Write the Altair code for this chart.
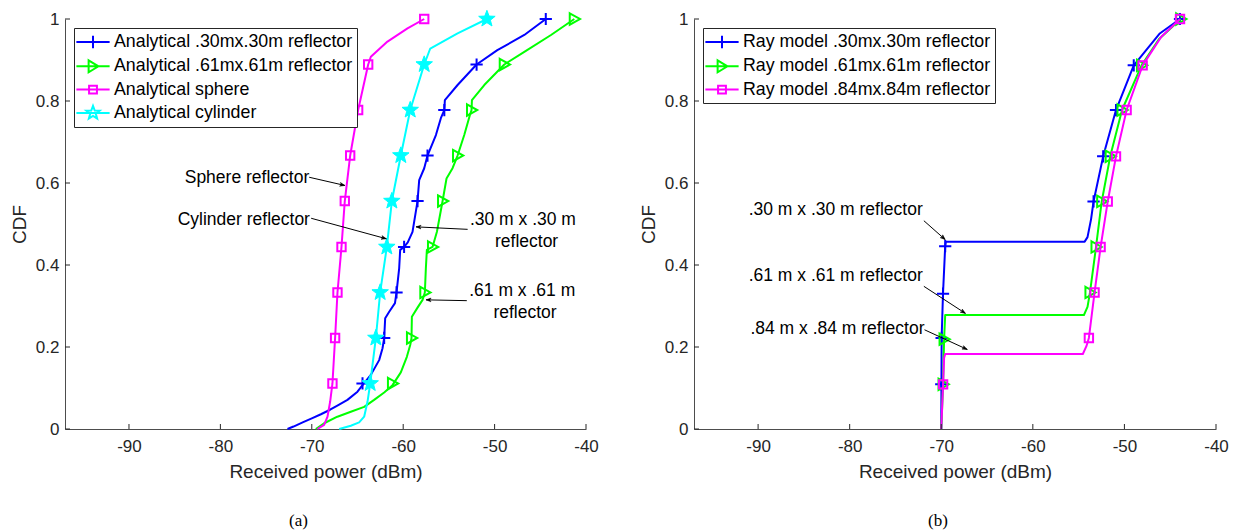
import math
import altair as alt
import pandas as pd

# ---------------- data ----------------
X_DOMAIN = [-97, -40]
X_TICKS = [-90, -80, -70, -60, -50, -40]
Y_TICKS = [0, 0.2, 0.4, 0.6, 0.8, 1.0]

# Panel (a): analytical CDFs
a_names = ["Analytical .30mx.30m reflector", "Analytical .61mx.61m reflector",
           "Analytical sphere", "Analytical cylinder"]

a30_x = [-72.66, -72.0, -71.0, -70.0, -69.0, -68.0, -67.2, -66.1, -65.0, -64.45, -63.54, -62.63,
         -62.26, -62.08, -61.97, -61.53, -60.9, -60.73, -60.44, -60.33, -59.9, -59.5, -58.98,
         -58.43, -58.25, -57.7, -57.34, -56.42, -55.88, -55.5, -55.44, -54.05, -51.97, -49.7,
         -46.75, -44.4]
a30_y = [0.0, 0.006, 0.016, 0.026, 0.036, 0.047, 0.057, 0.071, 0.091, 0.107, 0.132, 0.168,
         0.197, 0.222, 0.27, 0.286, 0.307, 0.333, 0.392, 0.437, 0.444, 0.455, 0.481,
         0.556, 0.607, 0.636, 0.667, 0.717, 0.758, 0.778, 0.802, 0.839, 0.889, 0.924,
         0.961, 1.0]
a30_mx = [-64.45, -62.08, -60.73, -59.9, -58.43, -57.34, -55.5, -51.97, -44.4]

a61_x = [-69.56, -68.65, -67.2, -65.73, -64.27, -63.18, -62.08, -61.17, -60.26, -59.6, -59.23,
         -59.09, -59.05, -58.43, -57.88, -57.63, -57.52, -57.41, -56.79, -56.31, -55.69, -55.26,
         -54.6, -54.05, -53.32, -52.7, -52.52, -52.48, -51.13, -48.94, -46.75, -43.83, -41.28]
a61_y = [0.0, 0.014, 0.03, 0.042, 0.054, 0.071, 0.089, 0.107, 0.138, 0.176, 0.205,
         0.222, 0.274, 0.296, 0.315, 0.333, 0.392, 0.437, 0.444, 0.481, 0.556, 0.611,
         0.636, 0.667, 0.717, 0.766, 0.778, 0.802, 0.839, 0.889, 0.92, 0.961, 1.0]
a61_mx = [-61.17, -59.09, -57.63, -56.79, -55.69, -54.05, -52.52, -48.94, -41.28]

asph_x = [-69.38, -68.65, -68.28, -67.99, -67.74, -67.45, -67.19, -66.75, -66.39, -65.8,
          -64.93, -63.83, -63.54, -61.72, -59.53, -57.7]
asph_y = [0.0, 0.01, 0.03, 0.067, 0.111, 0.222, 0.333, 0.444, 0.556, 0.667,
          0.778, 0.889, 0.908, 0.945, 0.977, 1.0]
asph_mx = [-67.74, -67.45, -67.19, -66.75, -66.39, -65.8, -64.93, -63.83, -57.7]

acyl_x = [-67.0, -65.73, -64.82, -64.27, -63.9, -63.61, -62.99, -62.52, -61.79, -61.24,
          -60.26, -59.23, -57.7, -57.04, -54.05, -50.84]
acyl_y = [0.0, 0.008, 0.016, 0.03, 0.067, 0.111, 0.222, 0.333, 0.444, 0.556,
          0.667, 0.778, 0.889, 0.928, 0.965, 1.0]
acyl_mx = [-63.61, -62.99, -62.52, -61.79, -61.24, -60.26, -59.23, -57.7, -50.84]

MARK_Y = [0.111, 0.222, 0.333, 0.444, 0.556, 0.667, 0.778, 0.889, 1.0]

a_ann_text = ["Sphere reflector", "Cylinder reflector", ".30 m x .30 m", "reflector",
              ".61 m x .61 m", "reflector"]
a_ann_x = [-70.28, -70.2, -46.9, -46.5, -46.98, -46.67]
a_ann_y = [0.612, 0.51, 0.51, 0.456, 0.337, 0.283]
a_ann_align = ["right", "right", "center", "center", "center", "center"]
a_arr_x1 = [-70.28, -70.07, -52.95, -53.04]
a_arr_y1 = [0.614, 0.514, 0.487, 0.313]
a_arr_x2 = [-66.38, -61.84, -58.6, -57.5]
a_arr_y2 = [0.594, 0.464, 0.493, 0.315]

# Panel (b): ray model CDFs
b_names = ["Ray model .30mx.30m reflector", "Ray model .61mx.61m reflector",
           "Ray model .84mx.84m reflector"]

b30_x = [-70.0, -69.96, -69.81, -69.57, -69.5, -54.34, -54.03, -53.64, -53.37, -52.32,
         -50.92, -48.98, -46.18, -43.93]
b30_y = [0.0, 0.222, 0.33, 0.446, 0.457, 0.457, 0.468, 0.512, 0.555, 0.665,
         0.778, 0.887, 0.964, 1.0]
b30_mx = [-70.0, -69.96, -69.81, -69.57, -53.37, -52.32, -50.92, -48.98, -43.93]
b30_my = [0.109, 0.222, 0.33, 0.446, 0.555, 0.665, 0.778, 0.887, 1.0]

b61_x = [-70.0, -69.8, -69.69, -69.57, -54.42, -54.03, -53.76, -53.1, -52.48, -51.55,
         -50.26, -48.13, -46.18, -43.85]
b61_y = [0.0, 0.109, 0.219, 0.278, 0.278, 0.298, 0.333, 0.444, 0.555, 0.665,
         0.778, 0.887, 0.952, 1.0]
b61_mx = [-69.8, -69.69, -53.76, -53.1, -52.48, -51.55, -50.26, -48.13, -43.85]
b61_my = [0.109, 0.219, 0.333, 0.444, 0.555, 0.665, 0.778, 0.887, 1.0]

b84_x = [-70.0, -69.8, -69.69, -69.57, -54.54, -54.15, -53.88, -53.26, -52.6, -51.82,
         -50.92, -49.76, -48.01, -45.99, -43.93]
b84_y = [0.0, 0.109, 0.173, 0.183, 0.183, 0.202, 0.222, 0.333, 0.444, 0.555,
         0.665, 0.778, 0.887, 0.956, 1.0]
b84_mx = [-69.8, -53.88, -53.26, -52.6, -51.82, -50.92, -49.76, -48.01, -43.93]
b84_my = [0.109, 0.222, 0.333, 0.444, 0.555, 0.665, 0.778, 0.887, 1.0]

b_ann_text = [".30 m x .30 m reflector", ".61 m x .61 m reflector", ".84 m x .84 m reflector"]
b_ann_x = [-72.02, -72.02, -71.83]
b_ann_y = [0.535, 0.373, 0.244]
b_arr_x1 = [-71.9, -71.9, -71.83]
b_arr_y1 = [0.508, 0.348, 0.242]
b_arr_x2 = [-69.57, -67.36, -67.16]
b_arr_y2 = [0.462, 0.282, 0.194]

# ---------------- styles ----------------
FONT = "Liberation Sans"
TXT = "#262626"
BLUE, GREEN, MAGENTA, CYAN = "#0000ff", "#00ff00", "#ff00ff", "#00ffff"


def star_path(r_out, r_in):
    pts = []
    for i in range(10):
        ang = math.radians(-90 + 36 * i)
        r = r_out if i % 2 == 0 else r_in
        pts.append(f"{r * math.cos(ang):.3f},{r * math.sin(ang):.3f}")
    return "M" + "L".join(pts) + "Z"


PLUS = "M-1,0H1M0,-1V1"
TRI = "M-0.8,-1L1,0L-0.8,1Z"
SQR = "M-1,-1H1V1H-1Z"
STAR = star_path(1.0, 0.42)
HEAD = "M0,0L-2,-0.75L-1.45,0L-2,0.75Z"

LEG_LINE = "M-1.9,0H1.9"
LEG_PLUS = LEG_LINE + "M0,-0.72V0.72"
LEG_TRI = LEG_LINE + "M-0.5,-0.68L0.62,0L-0.5,0.68Z"
LEG_SQR = LEG_LINE + "M-0.45,-0.45H0.45V0.45H-0.45Z"
LEG_STAR = LEG_LINE + star_path(0.8, 0.34)

W_A, H_A = 521, 410
W_B, H_B = 522, 410


def panel(names, xs, ys, mxs, mys, styles, leg_paths, ann, arrows, width, height, caption, cap_dx):
    xenc = alt.X("x:Q", scale=alt.Scale(domain=X_DOMAIN, nice=False, zero=False),
                 axis=alt.Axis(values=X_TICKS, title="Received power (dBm)", labelPadding=9,
                               titlePadding=8, labelFlush=False, labelExpr="'' + datum.value"))
    yenc = alt.Y("y:Q", scale=alt.Scale(domain=[0, 1], nice=False, zero=False),
                 axis=alt.Axis(values=Y_TICKS, title="CDF", labelPadding=6, titlePadding=6,
                               labelFlush=False,
                               labelExpr="datum.value == 0 ? '0' : datum.value == 1 ? '1' : format(datum.value, '.1f')"))
    layers = []
    kx = width / (X_DOMAIN[1] - X_DOMAIN[0])
    ky = height / 1.0

    for name, x, y, mx, my, st in zip(names, xs, ys, mxs, mys, styles):
        color, shape, filled, size = st
        ldf = pd.DataFrame({"x": x, "y": y, "i": list(range(len(x)))})
        layers.append(alt.Chart(ldf).mark_line(color=color, strokeWidth=2, strokeJoin="round")
                      .encode(x=xenc, y=yenc, order="i:Q"))
        mdf = pd.DataFrame({"x": mx, "y": my})
        if filled:
            pm = alt.Chart(mdf).mark_point(shape=shape, filled=True, fill=color, stroke=color,
                                           strokeWidth=1, size=size, opacity=1)
        else:
            pm = alt.Chart(mdf).mark_point(shape=shape, filled=False, stroke=color,
                                           strokeWidth=2, size=size, opacity=1)
        layers.append(pm.encode(x=xenc, y=yenc))

    # inward ticks
    tl = 5
    xt = pd.DataFrame({"x": X_TICKS, "y": [0.0] * len(X_TICKS), "y2": [tl / ky] * len(X_TICKS)})
    yt = pd.DataFrame({"y": Y_TICKS, "x": [float(X_DOMAIN[0])] * len(Y_TICKS),
                       "x2": [X_DOMAIN[0] + tl / kx] * len(Y_TICKS)})
    layers.append(alt.Chart(xt).mark_rule(color=TXT, strokeWidth=1)
                  .encode(x=xenc, y=yenc, y2=alt.Y2("y2")))
    layers.append(alt.Chart(yt).mark_rule(color=TXT, strokeWidth=1)
                  .encode(x=xenc, y=yenc, x2=alt.X2("x2")))

    # annotations
    tx, ty, tt, ta = ann
    for align in ["right", "center"]:
        rows = [(a, b, c) for a, b, c, d in zip(tx, ty, tt, ta) if d == align]
        if rows:
            adf = pd.DataFrame(rows, columns=["x", "y", "t"])
            layers.append(alt.Chart(adf).mark_text(align=align, baseline="middle", font=FONT,
                                                   fontSize=17.5, color="black")
                          .encode(x=xenc, y=yenc, text="t:N"))
    x1, y1, x2, y2 = arrows
    ang = []
    for a, b, c, d in zip(x1, y1, x2, y2):
        dxs = (c - a) * kx
        dys = -(d - b) * ky
        ang.append(math.degrees(math.atan2(dys, dxs)) % 360)
    rdf = pd.DataFrame({"x": x1, "y": y1, "x2": x2, "y2": y2})
    layers.append(alt.Chart(rdf).mark_rule(color="black", strokeWidth=1)
                  .encode(x=xenc, y=yenc, x2=alt.X2("x2"), y2=alt.Y2("y2")))
    hdf = pd.DataFrame({"x": x2, "y": y2, "a": ang})
    layers.append(alt.Chart(hdf).mark_point(shape=HEAD, filled=True, fill="black", stroke="black",
                                            strokeWidth=0.5, size=25, opacity=1)
                  .encode(x=xenc, y=yenc, angle=alt.Angle("a:Q", scale=None)))

    # legend (explicit domains, no drawn data)
    leg_df = pd.DataFrame({"series": names, "x": [float(X_DOMAIN[0])] * len(names),
                           "y": [0.0] * len(names)})
    colors = [s[0] for s in styles]
    legend = alt.Legend(title=None, orient="top-left", offset=9, padding=4,
                        fillColor="white", strokeColor="#262626",
                        labelFont=FONT, labelFontSize=17.8, labelColor="black", labelLimit=500,
                        symbolSize=306, symbolStrokeWidth=2, symbolOffset=5, labelOffset=11,
                        rowPadding=3.3, symbolFillColor="transparent", cornerRadius=0)
    layers.append(alt.Chart(leg_df).transform_filter("false")
                  .mark_point(filled=False, opacity=1, strokeWidth=2)
                  .encode(x=xenc, y=yenc,
                          color=alt.Color("series:N", scale=alt.Scale(domain=names, range=colors),
                                          legend=legend),
                          shape=alt.Shape("series:N", scale=alt.Scale(domain=names, range=leg_paths),
                                          legend=legend)))

    return alt.layer(*layers).properties(
        width=width, height=height,
        title=alt.TitleParams(caption, orient="bottom", font="Liberation Serif", fontSize=17,
                              fontWeight="normal", color="black", offset=32, dx=cap_dx))


MARK_A = [MARK_Y] * 4
left = panel(a_names, [a30_x, a61_x, asph_x, acyl_x], [a30_y, a61_y, asph_y, acyl_y],
             [a30_mx, a61_mx, asph_mx, acyl_mx], MARK_A,
             [(BLUE, PLUS, False, 150), (GREEN, TRI, False, 130), (MAGENTA, SQR, False, 70),
              (CYAN, STAR, True, 300)],
             [LEG_PLUS, LEG_TRI, LEG_SQR, LEG_STAR],
             (a_ann_x, a_ann_y, a_ann_text, a_ann_align),
             (a_arr_x1, a_arr_y1, a_arr_x2, a_arr_y2), W_A, H_A, "(a)", -27)

right = panel(b_names, [b30_x, b61_x, b84_x], [b30_y, b61_y, b84_y],
              [b30_mx, b61_mx, b84_mx], [b30_my, b61_my, b84_my],
              [(BLUE, PLUS, False, 150), (GREEN, TRI, False, 130), (MAGENTA, SQR, False, 70)],
              [LEG_PLUS, LEG_TRI, LEG_SQR],
              (b_ann_x, b_ann_y, b_ann_text, ["right"] * 3),
              (b_arr_x1, b_arr_y1, b_arr_x2, b_arr_y2), W_B, H_B, "(b)", -17)

chart = alt.hconcat(left, right, spacing=40).resolve_scale(
    color="independent", shape="independent"
).resolve_legend(
    color="independent", shape="independent"
).properties(
    padding={"left": 2, "top": 0, "right": 2, "bottom": 2}
).configure_view(stroke=None).configure_axis(
    grid=False, tickSize=0, domainColor="#4d4d4d", domainWidth=1,
    labelFont=FONT, labelFontSize=17, labelColor=TXT,
    titleFont=FONT, titleFontSize=19, titleColor=TXT, titleFontWeight="normal"
).configure_legend(strokeWidth=1)

chart.save("out.html", embed_options={"renderer": "svg", "actions": False})
